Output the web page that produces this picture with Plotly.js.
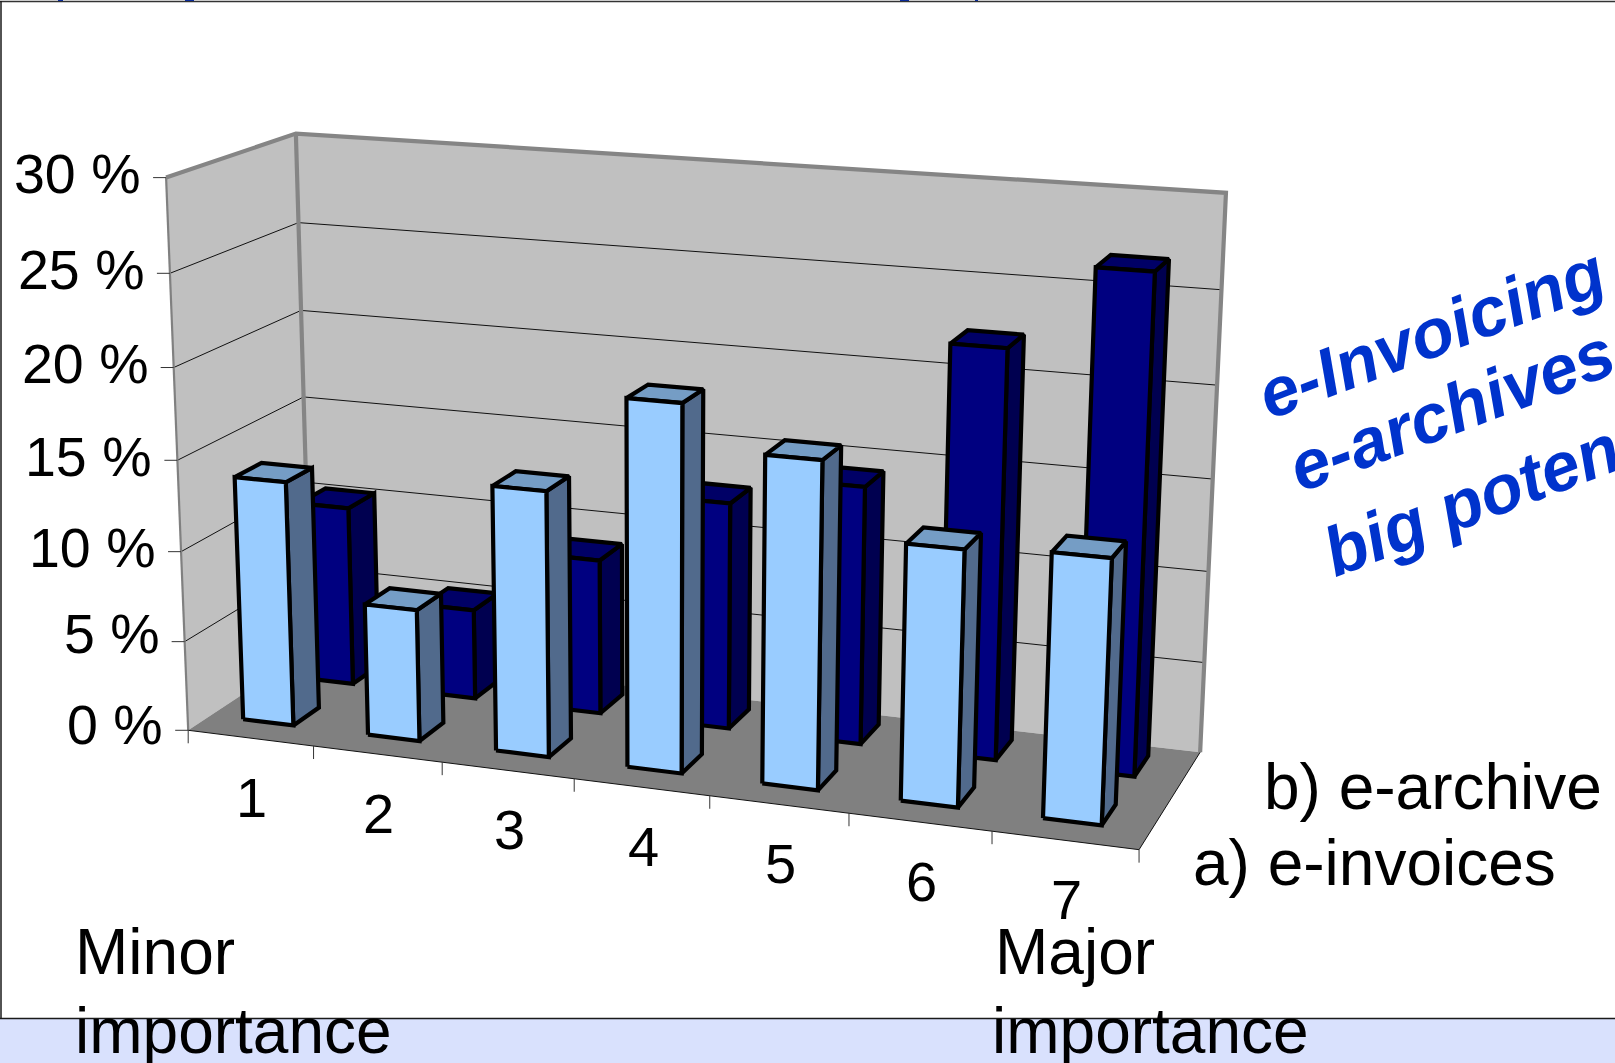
<!DOCTYPE html>
<html>
<head>
<meta charset="utf-8">
<script src="https://cdn.plot.ly/plotly-3.0.1.min.js"></script>
<style>html,body{margin:0;padding:0;background:#fff;overflow:hidden}#chart{width:1615px;height:1063px}</style>
</head>
<body>
<div id="chart"></div>
<script>
// Survey answers: share of respondents per importance rating.
const categories = ['1', '2', '3', '4', '5', '6', '7'];
const eInvoices = [13.6, 7.3, 14.5, 19.8, 17.5, 13.6, 13.9];
const eArchive = [10.2, 5.1, 8.7, 12.6, 14.2, 22.2, 26.7];
const valueTicks = [0, 5, 10, 15, 20, 25, 30];
const seriesNames = ['a) e-invoices', 'b) e-archive'];

const W = 1615, H = 1063;
const font = 'Liberation Sans, Arial, sans-serif';

// Box extent of the oblique view: u = category slot, d = depth (0 front, 1 back), z = percent.
const U = categories.length, Z = 30;

// Known box corners [u, d, z, px, py] used to fit the view transform.
const pins = [
  [0,0,0,187.5,729], [0,0,30,166.3,179], [0,1,30,295.5,135.2], [0,1,0,312,652],
  [7,1,0,1201.7,751.6], [7,1,30,1228.4,191], [7,0,0,1140,849.5],
  [0,0,15,177,460.4], [0,1,15,303.7,395.5], [7,1,15,1211.4,477.3],
  [0,1,25,298.6,222], [0,1,20,301,308], [7,1,25,1220.7,291.4], [7,1,20,1216.6,386.4],
  [7,1,10,1207.8,572.5], [7,1,5,1202.7,663]
];

// Least-squares fit of a 3x4 projective matrix (last entry fixed to 1).
function fitView(pts) {
  const n = 11, A = Array.from({length:n}, () => Array(n + 1).fill(0));
  const add = (row, rhs) => {
    for (let i = 0; i < n; i++) {
      for (let j = 0; j < n; j++) A[i][j] += row[i] * row[j];
      A[i][n] += row[i] * rhs;
    }
  };
  pts.forEach(([u, d, z, px, py]) => {
    const a = u / U, b = d, c = z / Z, x = px / 1000, y = py / 1000;
    add([a,b,c,1,0,0,0,0,-x*a,-x*b,-x*c], x);
    add([0,0,0,0,a,b,c,1,-y*a,-y*b,-y*c], y);
  });
  for (let i = 0; i < n; i++) {
    let p = i;
    for (let r = i + 1; r < n; r++) if (Math.abs(A[r][i]) > Math.abs(A[p][i])) p = r;
    [A[i], A[p]] = [A[p], A[i]];
    for (let r = 0; r < n; r++) {
      if (r === i) continue;
      const f = A[r][i] / A[i][i];
      for (let c = i; c <= n; c++) A[r][c] -= f * A[i][c];
    }
  }
  return A.map((row, i) => row[n] / row[i]);
}
const M = fitView(pins);
function proj(u, d, z) {
  const a = u / U, b = d, c = z / Z;
  const w = M[8]*a + M[9]*b + M[10]*c + 1;
  return [1000*(M[0]*a + M[1]*b + M[2]*c + M[3]) / w,
          1000*(M[4]*a + M[5]*b + M[6]*c + M[7]) / w];
}

// Collects polygons or polylines as one scatter trace, separated by gaps.
function pathTrace(chains, opts) {
  const x = [], y = [];
  chains.forEach(ch => {
    ch.forEach(p => { const q = proj(p[0], p[1], p[2]); x.push(q[0]); y.push(q[1]); });
    if (opts.fill) { const q = proj(ch[0][0], ch[0][1], ch[0][2]); x.push(q[0]); y.push(q[1]); }
    x.push(null); y.push(null);
  });
  return {
    type: 'scatter', mode: 'lines', x, y, hoverinfo: 'skip', showlegend: false, cliponaxis: false,
    fill: opts.fill ? 'toself' : 'none', fillcolor: opts.fill,
    line: {color: opts.color || 'rgba(0,0,0,0)', width: opts.width === undefined ? 0 : opts.width, simplify: false}
  };
}

const traces = [];
// Walls and floor
traces.push(pathTrace([[[0,0,0],[0,0,Z],[0,1,Z],[0,1,0]]], {fill:'#c0c0c0'}));
traces.push(pathTrace([[[0,1,0],[0,1,Z],[U,1,Z],[U,1,0]]], {fill:'#c0c0c0'}));
traces.push(pathTrace([[[0,0,0],[0,1,0],[U,1,0],[U,0,0]]], {fill:'#808080'}));
// Gridlines on both walls
traces.push(pathTrace(valueTicks.filter(v => v > 0 && v < Z).map(v => [[0,0,v],[0,1,v],[U,1,v]]), {color:'#111', width:1}));
// Wall edges
traces.push(pathTrace([[[0,0,Z],[0,1,Z],[U,1,Z],[U,1,0]], [[0,1,Z],[0,1,0]]], {color:'#858585', width:4.2}));
traces.push(pathTrace([[[0,0,Z],[0,0,0]]], {color:'#808080', width:2.2}));
// Floor edges
traces.push(pathTrace([[[0,0,0],[U,0,0],[U,1,0]]], {color:'#111', width:1}));

// Axis ticks, computed from the projected axis positions
function tickLines() {
  const x = [], y = [];
  valueTicks.forEach(v => {
    const p = proj(0, 0, v);
    x.push(p[0] - 13, p[0], null); y.push(p[1], p[1], null);
  });
  for (let u = 0; u <= U; u++) {
    const p = proj(u, 0, 0);
    x.push(p[0], p[0], null); y.push(p[1], p[1] + 13, null);
  }
  return {type:'scatter', mode:'lines', x, y, hoverinfo:'skip', showlegend:false,
          line:{color:'#333', width:1}};
}
traces.push(tickLines());

// One row of prism bars: front, side and top faces
const U0 = 0.262, U1 = 0.667;
function barRow(values, d0, d1, colors) {
  const front = [], side = [], top = [];
  values.forEach((v, i) => {
    const a = i + U0, b = i + U1;
    front.push([[a,d0,0],[a,d0,v],[b,d0,v],[b,d0,0]]);
    side.push([[b,d0,0],[b,d0,v],[b,d1,v],[b,d1,0]]);
    top.push([[a,d0,v],[a,d1,v],[b,d1,v],[b,d0,v]]);
  });
  const edge = {color:'#000', width:4.2};
  return [
    pathTrace(side, Object.assign({fill:colors[1]}, edge)),
    pathTrace(top, Object.assign({fill:colors[2]}, edge)),
    pathTrace(front, Object.assign({fill:colors[0]}, edge))
  ];
}
traces.push(...barRow(eArchive, 0.675, 0.90, ['#000080', '#000050', '#000066']));
traces.push(...barRow(eInvoices, 0.175, 0.385, ['#99ccff', '#516a8c', '#759dc5']));

// Text helpers
function label(text, x, y, size, anchor, extra) {
  return Object.assign({text, x, y, xref:'x', yref:'y', showarrow:false, xanchor:anchor, yanchor:'middle',
    font:{family:font, size, color:'#000'}}, extra || {});
}
const annotations = [];
valueTicks.forEach(v => {
  const p = proj(0, 0, v);
  const lift = v === 5 ? 7.5 : (v === 0 ? 5.5 : 3.5);
  annotations.push(label(v + ' %', p[0] - 23, p[1] - lift, 55.5, 'right'));
});
categories.forEach((c, i) => {
  const p = proj(i + 0.5, 0, 0);
  annotations.push(label(c, p[0] + 1.5, p[1] + 59, 56, 'center'));
});
annotations.push(label(seriesNames[1], 1262, 787, 64, 'left'));
annotations.push(label(seriesNames[0], 1191, 863, 64, 'left'));
annotations.push(label('Minor', 73, 952, 64, 'left'));
annotations.push(label('importance', 73, 1031, 64, 'left'));
annotations.push(label('Major', 993, 952, 64, 'left'));
annotations.push(label('importance', 990, 1031, 64, 'left'));
const callout = {textangle:-20.8};
[['e-Invoicing', 1431, 333], ['e-archives', 1451, 410], ['big potential', 1519, 482]].forEach(([t, x, y]) => {
  const a = label(t, x, y, 69, 'center', callout);
  a.font = {family:font, size:69, color:'#0033cc', weight:'bold', style:'italic'};
  annotations.push(a);
});

// Slide backdrop, frame, and the clipped line of heading text at the top edge
const shapes = [
  {type:'rect', xref:'x', yref:'y', x0:0, x1:W, y0:1019, y1:H, fillcolor:'#d9e1fd', line:{width:0}, layer:'below'},
  {type:'line', xref:'x', yref:'y', x0:0, x1:W, y0:1018.5, y1:1018.5, line:{color:'#1a1a1a', width:1.5}, layer:'below'},
  {type:'line', xref:'x', yref:'y', x0:0, x1:W, y0:1.5, y1:1.5, line:{color:'#333', width:1.5}, layer:'below'},
  {type:'line', xref:'x', yref:'y', x0:1, x1:1, y0:1, y1:1019, line:{color:'#1a1a1a', width:1.5}, layer:'below'}
];
[[58,63],[185,194],[900,909],[975,978]].forEach(([a, b]) => {
  shapes.push({type:'rect', xref:'x', yref:'y', x0:a, x1:b, y0:0, y1:1, fillcolor:'#0a2a9a', line:{width:0}, layer:'below'});
});

Plotly.newPlot('chart', traces, {
  width: W, height: H,
  margin: {l:0, r:0, t:0, b:0, pad:0},
  paper_bgcolor: '#fff', plot_bgcolor: '#fff',
  showlegend: false, hovermode: false,
  xaxis: {range:[0, W], visible:false, fixedrange:true},
  yaxis: {range:[H, 0], visible:false, fixedrange:true},
  shapes, annotations
}, {displayModeBar:false, staticPlot:true});
</script>
</body>
</html>
